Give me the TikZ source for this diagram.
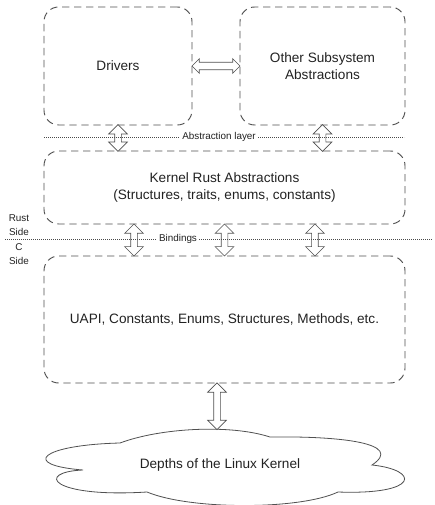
\documentclass[tikz,border=0pt]{standalone}
\usepackage{fontspec}
\setmainfont{Liberation Sans}
\usetikzlibrary{calc,shapes.arrows}
\definecolor{Ink}{HTML}{222222}
\definecolor{Edge}{HTML}{505050}
\definecolor{Dots}{HTML}{4A4A4A}

\begin{document}
\begin{tikzpicture}[x=0.75pt,y=-0.75pt,
    layerbox/.style={draw=Edge,line width=0.7pt,dash pattern=on 5.5pt off 3.5pt,rounded corners=11pt,align=center,text=Ink,font=\fontsize{10.2}{12.6}\selectfont},
    link/.style={double arrow,draw=Edge,fill=white,line width=0.5pt,inner xsep=0pt,inner ysep=2.25pt,minimum width=0pt,double arrow head extend=4.5pt,double arrow head indent=0pt,sloped},
    tag/.style={fill=white,text=Ink,inner sep=1.5pt,font=\fontsize{7.4}{10.5}\selectfont},
    layerline/.style={draw=Dots,line width=0.7pt,dash pattern=on 0.6pt off 0.9pt},
    cloudline/.style={draw=Edge,line width=0.6pt,fill=white}]
  \useasboundingbox (0,0) rectangle (434,505);
  \node[layerbox,minimum width=111pt,minimum height=88.5pt] (drv) at (118,66) {Drivers};
  \node[layerbox,minimum width=123.75pt,minimum height=88.5pt] (oth) at (322.5,66) {Other Subsystem\\Abstractions};
  \node[layerbox,minimum width=270.75pt,minimum height=54.75pt] (krn) at (224.5,187.5) {Kernel Rust Abstractions\\(Structures, traits, enums, constants)};
  \node[layerbox,minimum width=270.75pt,minimum height=95.25pt] (uapi) at (224.5,319.5) {UAPI, Constants, Enums, Structures, Methods, etc.};

  \draw[cloudline] (120,443) .. controls (160,428) and (230,424) .. (270,437)
    .. controls (340,436) and (405,443) .. (372,465)
    .. controls (420,470) and (420,495) .. (338,492)
    .. controls (300,510) and (190,510) .. (147,492)
    .. controls (50,498) and (35,472) .. (83,470)
    .. controls (20,465) and (40,445) .. (120,443) -- cycle;
  \node[text=Ink,font=\fontsize{10.2}{12.6}\selectfont] (depth) at (220,465) {Depths of the Linux Kernel};
  \coordinate (depthtop) at (217,429);

  \path (drv.east) -- node[link,minimum height=36pt,inner ysep=2.6pt,double arrow head extend=2.6pt] {} (oth.west);
  \path (drv.south) -- node[link,minimum height=20pt] {} (drv.south |- krn.north);
  \path (oth.south) -- node[link,minimum height=20pt] {} (oth.south |- krn.north);
  \foreach \f/\n in {0.25/a,0.5/b,0.75/c} {
    \coordinate (bind\n) at ($(krn.south west)!\f!(krn.south east)$);
    \path (bind\n) -- node[link,minimum height=24pt] {} (bind\n |- uapi.north);
  }
  \path ([xshift=-5.6pt]uapi.south) -- node[link,minimum height=35pt] {} (depthtop);

  \draw[layerline] (44,137) -- (404,137);
  \node[tag] (abs) at (219,137) {Abstraction layer};
  \draw[layerline] (5,239) -- (432,239);
  \node[tag] (bnd) at (178,239) {Bindings};
  \node[tag,fill=none,align=center] (rust) at (19,225) {Rust\\Side};
  \node[tag,fill=none,align=center] (cside) at (19,254) {C\\Side};
\end{tikzpicture}
\end{document}
